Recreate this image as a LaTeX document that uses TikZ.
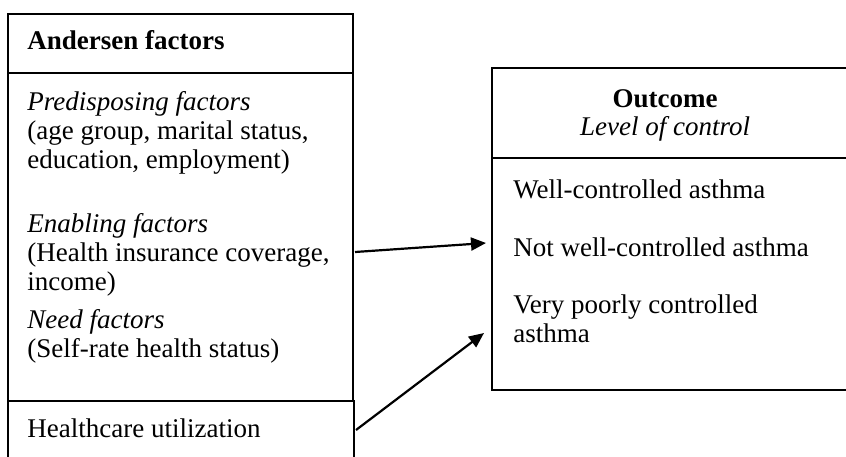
\documentclass[tikz,border=0pt]{standalone}
\usepackage{fontspec}
\setmainfont{Liberation Serif}
\usetikzlibrary{arrows.meta}

\begin{document}
\begin{tikzpicture}[x=0.5pt, y=-0.5pt,
    frame/.style={draw=black, line width=0.9pt},
    txt/.style={anchor=base west, inner sep=0pt, align=left,
      font=\fontsize{13.5pt}{14.5pt}\selectfont},
    head/.style={anchor=base, inner sep=0pt, align=center,
      font=\fontsize{13.5pt}{14pt}\selectfont},
    link/.style={-{Triangle[length=7.5pt, width=6.5pt]}, line width=1.1pt}]

        \useasboundingbox (0,0) rectangle (846,456);
        \clip (0,0) rectangle (846,456);

        % Andersen factors box (base = last line)
        \draw[frame] (8,14) rectangle (353,401);
        \draw[frame] (8,73) -- (353,73);
        \node[txt] (andersen) at (27,49) {\textbf{Andersen factors}};
        \node[txt] (predisp) at (27,168) {\textit{Predisposing factors}\\(age group, marital status,\\education, employment)};
        \node[txt] (enabling) at (27,290) {\textit{Enabling factors}\\(Health insurance coverage,\\income)};
        \node[txt] (need) at (27,357) {\textit{Need factors}\\(Self-rate health status)};

        % Healthcare utilization box
        \draw[frame] (8,470) -- (8,401) -- (354,401) -- (354,470);
        \node[txt] (util) at (27,437) {Healthcare utilization};

        % Outcome box
        \draw[frame] (492,68) rectangle (860,390);
        \draw[frame] (492,158) -- (860,158);
        \node[head] (outcome) at (665,135) {\textbf{Outcome}\\\textit{Level of control}};
        \node[txt] (well) at (513,198) {Well-controlled asthma};
        \node[txt] (notwell) at (513,256) {Not well-controlled asthma};
        \node[txt] (poor) at (513,342) {Very poorly controlled\\asthma};

        % Arrows
        \coordinate (enab out) at (355,252);
        \coordinate (util out) at (356,430);
        \coordinate (ctrl in) at (486,243);
        \coordinate (poor in) at (484,333);
        \draw[link] (enab out) -- (ctrl in);
        \draw[link] (util out) -- (poor in);

\end{tikzpicture}
\end{document}
